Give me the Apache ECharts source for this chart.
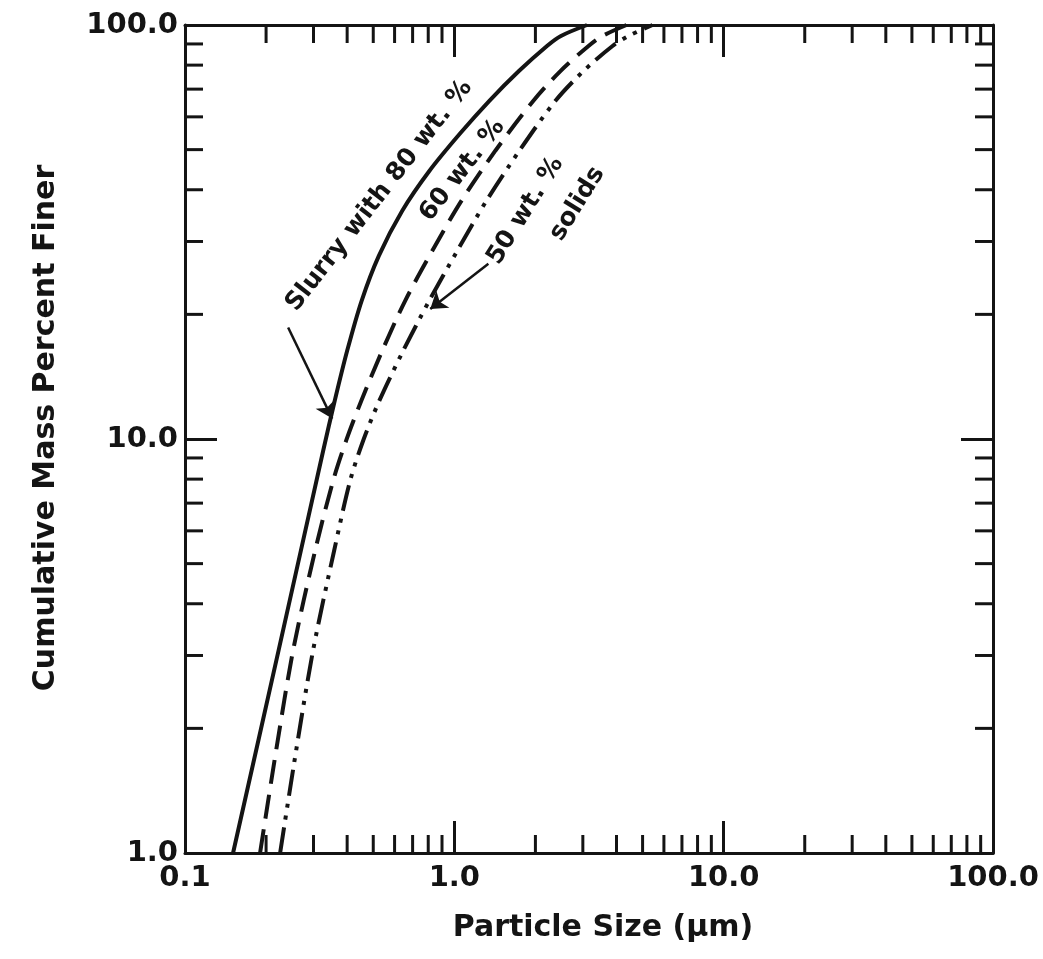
<!DOCTYPE html>
<html>
<head>
<meta charset="utf-8">
<script src="https://cdn.jsdelivr.net/npm/echarts@6/dist/echarts.min.js"></script>
<style>
  html, body { margin: 0; background: #fff; }
  #chart { width: 1043px; height: 959px; }
</style>
</head>
<body>
<div id="chart"></div>
<script>
// particle size (um) vs cumulative mass percent finer
var size80 = [0.1508, 0.2227, 0.326, 0.3595, 0.4002, 0.453, 0.5244, 0.6407, 0.8076, 1.048, 1.349, 1.737, 2.208, 2.488, 3.109];
var finer80 = [1.0, 3.09, 9.38, 12.35, 16.35, 21.6, 27.7, 35.6, 44.4, 54.6, 65.6, 77.4, 89.0, 94.1, 100];

var size60 = [0.19, 0.218, 0.2521, 0.3043, 0.355, 0.3968, 0.4511, 0.5401, 0.6574, 0.8284, 1.062, 1.42, 1.966, 2.477, 3.149, 3.549, 4.359];
var finer60 = [1.0, 1.77, 3.09, 5.38, 7.94, 9.92, 12.35, 16.35, 21.6, 28.5, 37.6, 49.7, 65.6, 77.4, 89.0, 94.1, 100];

var size50 = [0.2255, 0.2587, 0.299, 0.358, 0.4106, 0.4589, 0.526, 0.6462, 0.8076, 1.026, 1.315, 1.744, 2.374, 3.017, 3.867, 4.434, 5.446];
var finer50 = [1.0, 1.77, 3.09, 5.38, 7.94, 9.92, 12.35, 16.35, 21.6, 28.5, 37.6, 49.7, 65.6, 77.4, 89.0, 94.1, 100];

var xMinorTicks = [0.2, 0.3, 0.4, 0.5, 0.6, 0.7, 0.8, 0.9, 2, 3, 4, 5, 6, 7, 8, 9, 20, 30, 40, 50, 60, 70, 80, 90];
var yMinorTicks = [2, 3, 4, 5, 6, 7, 8, 9, 20, 30, 40, 50, 60, 70, 80, 90];

// annotations: text, x, y, angle
var noteText = ['Slurry with 80 wt. %', '60 wt. %', '50 wt. %', 'solids'];
var noteX = [0.526, 1.071, 1.836, 2.866];
var noteY = [38.7, 44.6, 35.6, 37.0];
var noteAngle = [52, 52, 58, 58];
// arrows: [tail, head]
var arrows = [
  [[0.2415, 18.6], [0.352, 11.2]],
  [[1.338, 26.5], [0.814, 20.6]]
];

var ink = '#141414';
var font = 'DejaVu Sans';

function pairs(xs, ys) {
  var out = [];
  for (var i = 0; i < xs.length; i++) out.push([xs[i], ys[i]]);
  return out;
}

function fmt(v) {
  return Number(v).toFixed(1);
}

var chart = echarts.init(document.getElementById('chart'));

function axisBase() {
  return {
    type: 'log',
    logBase: 10,
    axisLine: { lineStyle: { color: ink, width: 3 } },
    axisTick: { inside: true, length: 32, lineStyle: { color: ink, width: 3 } },
    splitLine: { show: false },
    minorTick: { show: false },
    axisLabel: {
      color: ink, fontFamily: font, fontWeight: 'bold', fontSize: 29,
      formatter: fmt, showMinLabel: true, showMaxLabel: true
    },
    nameTextStyle: { color: ink, fontFamily: font, fontWeight: 'bold', fontSize: 30 }
  };
}

var xBottom = Object.assign(axisBase(), {
  min: 0.1, max: 100, position: 'bottom',
  name: 'Particle Size (µm)', nameLocation: 'middle', nameGap: 60
});
xBottom.axisLabel.margin = 11;
xBottom.nameTextStyle.padding = [0, 0, 0, 28];
var xTop = Object.assign(axisBase(), { min: 0.1, max: 100, position: 'top' });
xTop.axisLabel = { show: false };

var yLeft = Object.assign(axisBase(), {
  min: 1, max: 100, position: 'left',
  name: 'Cumulative Mass Percent Finer', nameLocation: 'middle', nameGap: 124, nameRotate: 90
});
yLeft.axisLabel.margin = 7;
yLeft.nameTextStyle.padding = [0, 0, 0, 22];
var yRight = Object.assign(axisBase(), { min: 1, max: 100, position: 'right' });
yRight.axisLabel = { show: false };

function minorTickSeries(values, isX) {
  var data = values.map(function (v) { return isX ? [v, 1] : [0.1, v]; });
  return {
    type: 'custom',
    silent: true,
    clip: false,
    z: 5,
    data: data,
    renderItem: function (params, api) {
      var style = { stroke: ink, lineWidth: 3 };
      if (isX) {
        var v = api.value(0);
        var a = api.coord([v, 1]), b = api.coord([v, 100]);
        return { type: 'group', children: [
          { type: 'line', shape: { x1: a[0], y1: a[1], x2: a[0], y2: a[1] - 18 }, style: style },
          { type: 'line', shape: { x1: b[0], y1: b[1], x2: b[0], y2: b[1] + 18 }, style: style }
        ] };
      }
      var w = api.value(1);
      var l = api.coord([0.1, w]), r = api.coord([100, w]);
      return { type: 'group', children: [
        { type: 'line', shape: { x1: l[0], y1: l[1], x2: l[0] + 18, y2: l[1] }, style: style },
        { type: 'line', shape: { x1: r[0], y1: r[1], x2: r[0] - 18, y2: r[1] }, style: style }
      ] };
    }
  };
}

var notes = noteText.map(function (t, i) {
  return {
    value: [noteX[i], noteY[i]],
    label: { formatter: t, rotate: noteAngle[i] }
  };
});

var option = {
  backgroundColor: '#fff',
  animation: false,
  grid: { left: 185, right: 50, top: 25, bottom: 106 },
  xAxis: [xBottom, xTop],
  yAxis: [yLeft, yRight],
  series: [
    {
      name: '80 wt. %', type: 'line', data: pairs(size80, finer80),
      smooth: 0.3, showSymbol: false,
      lineStyle: { color: ink, width: 4 }
    },
    {
      name: '60 wt. %', type: 'line', data: pairs(size60, finer60),
      smooth: 0.3, showSymbol: false,
      lineStyle: { color: ink, width: 4, type: [24, 11] }
    },
    {
      name: '50 wt. %', type: 'line', data: pairs(size50, finer50),
      smooth: 0.3, showSymbol: false,
      lineStyle: { color: ink, width: 4, type: [26, 8, 4, 8, 4, 8] }
    },
    minorTickSeries(xMinorTicks, true),
    minorTickSeries(yMinorTicks, false),
    {
      name: 'notes', type: 'scatter', symbolSize: 0, silent: true,
      itemStyle: { color: ink, opacity: 1 },
      data: notes,
      label: {
        show: true, position: 'inside', color: ink, opacity: 1,
        textBorderWidth: 0, textBorderColor: 'transparent',
        fontFamily: font, fontWeight: 'bold', fontSize: 25
      },
      markLine: {
        silent: true,
        symbol: ['none', 'arrow'],
        symbolSize: 16,
        label: { show: false },
        lineStyle: { color: ink, width: 2.5, type: 'solid', opacity: 1 },
        data: arrows.map(function (a) {
          return [{ coord: a[0] }, { coord: a[1] }];
        })
      }
    }
  ]
};

chart.setOption(option);
</script>
</body>
</html>
